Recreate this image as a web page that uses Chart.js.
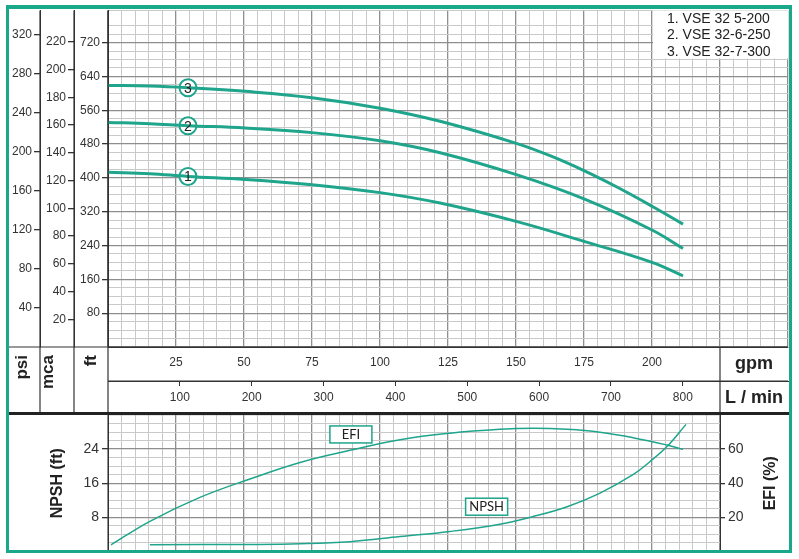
<!DOCTYPE html>
<html>
<head>
<meta charset="utf-8">
<title>VSE 32</title>
<script src="https://cdn.jsdelivr.net/npm/chart.js@4.4.1/dist/chart.umd.min.js"></script>
<style>
  html, body { margin: 0; padding: 0; background: #fff; }
  #wrap { position: relative; width: 799px; height: 559px; overflow: hidden; }
  #curvas { position: absolute; left: 0; top: 0; }
  #npsh { position: absolute; left: 0; top: 415px; }
  #marco {
    position: absolute; left: 6px; top: 5px; width: 786px; height: 548px;
    box-sizing: border-box; border: solid #1aa88b; border-width: 4px 3px 3px 3px;
    pointer-events: none;
  }
</style>
</head>
<body>
<div id="wrap">
  <canvas id="curvas" width="799" height="415"></canvas>
  <canvas id="npsh" width="799" height="144"></canvas>
  <div id="marco"></div>
</div>
<script>
// caudal en gpm, altura en ft
const GPM_LMIN = 3.78541;
const FT_MCA = 3.28084;
const FT_PSI = 2.30666;

const models = ['1. VSE 32 5-200', '2. VSE 32-6-250', '3. VSE 32-7-300'];

const flow1 = [0, 15.4, 29.4, 50.4, 75, 100, 122.1, 150.4, 175, 200, 211.4];
const head1 = [413.6, 410.1, 403.5, 396.5, 384.0, 365.2, 340.5, 296.5, 249.9, 200.2, 168.2];
const flow2 = [0, 15.4, 29.4, 50.4, 75, 100, 122.1, 150.4, 175, 200, 211.4];
const head2 = [531.3, 528.2, 523.5, 518.1, 507.1, 487.8, 459.5, 407.1, 350.4, 276.7, 232.9];
const flow3 = [0, 15.4, 29.4, 50.4, 75, 100, 122.1, 150.4, 162.5, 175, 187.1, 200, 211.4];
const head3 = [618.8, 617.4, 613.4, 604.7, 589.6, 564.9, 533.9, 481.2, 452.5, 417.2, 378.4, 333.0, 290.6];

const markerFlow = 29.4;
const markerHead = [403.5, 523.5, 613.4];
const markerNames = ['1', '2', '3'];

// rendimiento (%) y NPSH (ft)
const efiFlow = [1.1, 15.4, 33.8, 52.2, 70.6, 89, 107.4, 125.7, 144.1, 156.3, 168.8, 180.9, 193, 205.5, 211.4];
const efiValues = [3.9, 17.7, 31.7, 42.5, 52.2, 59.3, 65.5, 69.3, 71.6, 72.2, 71.6, 69.9, 66.7, 62.4, 59.9];
const npshFlow = [15.4, 52.2, 70.6, 89, 107.4, 125.7, 144.1, 156.3, 168.8, 180.9, 193, 199.3, 205.5, 212.5];
const npshValues = [1.6, 1.65, 1.8, 2.3, 3.5, 4.7, 6.4, 8.2, 10.5, 13.7, 18.0, 21.1, 24.6, 29.8];

const efiLabelAt = [89.3, 68.6];
const npshLabelAt = [139.2, 10.5];

const TEAL = '#1fa58c';
const DARK = '#333333';
const GRID_MAJOR = '#8e8e8e';
const GRID_MINOR = '#c9c9c9';
const NONE = 'rgba(0,0,0,0)';
const SANS = "'Liberation Sans', Arial, sans-serif";

Chart.defaults.font.family = SANS;
Chart.defaults.color = DARK;

function toPoints(xs, ys) {
  return xs.map((x, i) => ({ x, y: ys[i] }));
}

function fixBox(w, h) {
  return (s) => {
    if (w != null) s.width = w;
    if (h != null) s.height = h;
    s.paddingTop = 0;
    s.paddingBottom = 0;
    s.paddingLeft = 0;
    s.paddingRight = 0;
  };
}

function curve(xs, ys, width, axis) {
  return {
    data: toPoints(xs, ys),
    yAxisID: axis || 'y',
    borderColor: TEAL,
    borderWidth: width,
    pointRadius: 0,
    tension: 0.4,
    fill: false,
  };
}

function isMajor(v, step) {
  return Math.abs(v / step - Math.round(v / step)) < 1e-6;
}

function gridOpts(step, onArea) {
  return {
    drawOnChartArea: onArea,
    drawTicks: false,
    color: (c) => (c.tick && isMajor(c.tick.value, step) ? GRID_MAJOR : GRID_MINOR),
    lineWidth: (c) => (c.tick && isMajor(c.tick.value, step) ? 1.3 : 1),
  };
}

// eje lateral con marcas solo donde hay etiqueta
function sideAxis(opts) {
  const shown = (v) => v > 0 && v <= opts.last + 1e-6 && isMajor(v, opts.labelStep);
  return {
    type: 'linear',
    axis: 'y',
    position: opts.position,
    weight: opts.weight,
    min: 0,
    max: opts.max,
    afterFit: fixBox(opts.width, null),
    ticks: {
      stepSize: opts.step,
      autoSkip: false,
      padding: opts.padding,
      font: { size: opts.fontSize },
      color: DARK,
      callback: (v) => (shown(v) ? String(v) : ''),
    },
    grid: {
      drawOnChartArea: opts.onArea,
      drawTicks: true,
      tickLength: opts.tickLength,
      tickColor: (c) => (c.tick && shown(c.tick.value) ? DARK : NONE),
      color: (c) => (c.tick && isMajor(c.tick.value, opts.majorStep) ? GRID_MAJOR : GRID_MINOR),
      lineWidth: (c) => (c.tick && isMajor(c.tick.value, opts.majorStep) ? 1.3 : 1),
    },
    border: { color: DARK, width: 1 },
  };
}

function rotatedText(ctx, text, x, y, align, font) {
  ctx.save();
  ctx.translate(x, y);
  ctx.rotate(-Math.PI / 2);
  ctx.font = font;
  ctx.fillStyle = '#222';
  ctx.textAlign = align;
  ctx.textBaseline = 'alphabetic';
  ctx.fillText(text, 0, 0);
  ctx.restore();
}

function line(ctx, x1, y1, x2, y2, width, color) {
  ctx.save();
  ctx.beginPath();
  ctx.moveTo(x1, y1);
  ctx.lineTo(x2, y2);
  ctx.lineWidth = width;
  ctx.strokeStyle = color;
  ctx.stroke();
  ctx.restore();
}

function labelBox(ctx, text, cx, cy, w, h) {
  ctx.save();
  ctx.fillStyle = '#fff';
  ctx.fillRect(cx - w / 2, cy - h / 2, w, h);
  ctx.strokeStyle = TEAL;
  ctx.lineWidth = 1.5;
  ctx.strokeRect(cx - w / 2, cy - h / 2, w, h);
  ctx.font = "13px Lato, 'Open Sans', sans-serif";
  ctx.fillStyle = '#222';
  ctx.textAlign = 'center';
  ctx.textBaseline = 'middle';
  ctx.fillText(text, cx, cy + 0.5);
  ctx.restore();
}

const topFrame = {
  id: 'topFrame',
  afterDatasetsDraw(chart) {
    const ctx = chart.ctx;
    const meta = chart.getDatasetMeta(3);
    ctx.save();
    ctx.font = '14px ' + SANS;
    ctx.fillStyle = '#222';
    ctx.textAlign = 'center';
    ctx.textBaseline = 'middle';
    meta.data.forEach((p, i) => ctx.fillText(markerNames[i], p.x, p.y + 1));
    ctx.restore();
  },
  afterDraw(chart) {
    const ctx = chart.ctx;
    const area = chart.chartArea;
    const x = chart.scales.x;
    const xl = chart.scales.xl;
    const bandTop = area.bottom;
    const bandMid = xl.top;
    const bandBot = xl.bottom;
    const splitX = x.getPixelForValue(225);
    const legendX = x.getPixelForValue(200);

    // leyenda
    ctx.save();
    ctx.fillStyle = '#fff';
    ctx.fillRect(legendX + 1, area.top, area.right - legendX - 1, 48);
    ctx.font = '14px ' + SANS;
    ctx.fillStyle = '#222';
    ctx.textAlign = 'left';
    ctx.textBaseline = 'middle';
    models.forEach((m, i) => ctx.fillText(m, legendX + 15, area.top + 8.5 + i * 16.5));
    ctx.restore();

    // columnas y bandas
    [chart.scales.psi.right, chart.scales.mca.right, area.left].forEach((cx) =>
      line(ctx, cx, area.top, cx, bandBot, 1.2, DARK)
    );
    line(ctx, splitX, bandTop, splitX, bandBot, 1.2, DARK);
    line(ctx, 9, bandTop, area.right, bandTop, 1.2, DARK);
    line(ctx, area.left, bandMid, area.right, bandMid, 1.2, DARK);
    line(ctx, 9, bandBot - 1.5, area.right + 1, bandBot - 1.5, 3, '#222');

    const boldFont = 'bold 17px ' + SANS;
    rotatedText(ctx, 'psi', 27, 355, 'right', boldFont);
    rotatedText(ctx, 'mca', 53, 355, 'right', boldFont);
    rotatedText(ctx, 'ft', 96, 355, 'right', boldFont);

    ctx.save();
    ctx.font = 'bold 18px ' + SANS;
    ctx.fillStyle = '#222';
    ctx.textAlign = 'center';
    ctx.textBaseline = 'middle';
    const cx = (splitX + area.right) / 2;
    ctx.fillText('gpm', cx, (bandTop + bandMid) / 2);
    ctx.fillText('L / min', cx, (bandMid + bandBot) / 2);
    ctx.restore();
  },
};

const bottomFrame = {
  id: 'bottomFrame',
  afterDraw(chart) {
    const ctx = chart.ctx;
    const { x, y, y2 } = chart.scales;
    const area = chart.chartArea;
    labelBox(ctx, 'EFI', x.getPixelForValue(efiLabelAt[0]), y2.getPixelForValue(efiLabelAt[1]), 42, 17);
    labelBox(ctx, 'NPSH', x.getPixelForValue(npshLabelAt[0]), y.getPixelForValue(npshLabelAt[1]), 42, 17);
    const midY = (area.top + area.bottom) / 2;
    rotatedText(ctx, 'NPSH (ft)', 62, midY, 'center', 'bold 16px ' + SANS);
    rotatedText(ctx, 'EFI (%)', 775, midY, 'center', 'bold 16px ' + SANS);
  },
};

new Chart(document.getElementById('curvas'), {
  type: 'line',
  data: {
    datasets: [
      curve(flow1, head1, 3),
      curve(flow2, head2, 3),
      curve(flow3, head3, 3),
      {
        data: markerHead.map((h) => ({ x: markerFlow, y: h })),
        showLine: false,
        pointRadius: 8.5,
        pointHoverRadius: 8.5,
        pointBackgroundColor: '#fff',
        pointBorderColor: TEAL,
        pointBorderWidth: 2,
      },
    ],
  },
  options: {
    responsive: false,
    animation: false,
    events: [],
    layout: { padding: { left: 7, top: 9, right: 11, bottom: 0 } },
    plugins: { legend: { display: false }, tooltip: { enabled: false } },
    scales: {
      x: {
        type: 'linear',
        position: 'bottom',
        weight: 0,
        min: 0,
        max: 250,
        afterFit: fixBox(null, 34),
        ticks: {
          stepSize: 5,
          autoSkip: false,
          maxRotation: 0,
          padding: 8.5,
          font: { size: 12 },
          color: DARK,
          callback: (v) => (v > 0 && v <= 200 && isMajor(v, 25) ? String(v) : ''),
        },
        grid: gridOpts(25, true),
        border: { color: DARK, width: 1 },
      },
      xl: {
        type: 'linear',
        position: 'bottom',
        weight: 1,
        min: 0,
        max: 250 * GPM_LMIN,
        afterFit: fixBox(null, 34),
        ticks: {
          stepSize: 100,
          autoSkip: false,
          maxRotation: 0,
          padding: 4.5,
          font: { size: 12 },
          color: DARK,
          callback: (v) => (v > 0 && v <= 800 ? String(v) : ''),
        },
        grid: {
          drawOnChartArea: false,
          drawTicks: true,
          tickLength: 5,
          tickColor: (c) => (c.tick && c.tick.value > 0 && c.tick.value <= 800 ? DARK : NONE),
        },
        border: { color: DARK, width: 1 },
      },
      y: sideAxis({
        position: 'left', weight: 0, max: 796, step: 20, labelStep: 80, last: 720,
        majorStep: 80, width: 34, padding: 2, tickLength: 6, fontSize: 12, onArea: true,
      }),
      mca: sideAxis({
        position: 'left', weight: 1, max: 796 / FT_MCA, step: 20, labelStep: 20, last: 220,
        majorStep: 20, width: 34, padding: 2, tickLength: 6, fontSize: 12, onArea: false,
      }),
      psi: sideAxis({
        position: 'left', weight: 2, max: 796 / FT_PSI, step: 40, labelStep: 40, last: 320,
        majorStep: 40, width: 33, padding: 2, tickLength: 6, fontSize: 12, onArea: false,
      }),
    },
  },
  plugins: [topFrame],
});

new Chart(document.getElementById('npsh'), {
  type: 'line',
  data: {
    datasets: [
      curve(efiFlow, efiValues, 1.5, 'y2'),
      curve(npshFlow, npshValues, 1.5, 'y'),
    ],
  },
  options: {
    responsive: false,
    animation: false,
    events: [],
    layout: { padding: { left: 7, top: 0, right: 9, bottom: 7.5 } },
    plugins: { legend: { display: false }, tooltip: { enabled: false } },
    scales: {
      x: {
        type: 'linear',
        position: 'bottom',
        min: 0,
        max: 225,
        afterFit: fixBox(null, 0),
        ticks: { stepSize: 5, autoSkip: false, display: false },
        grid: gridOpts(25, true),
        border: { display: false },
      },
      y: sideAxis({
        position: 'left', weight: 0, max: 32, step: 2, labelStep: 8, last: 24,
        majorStep: 8, width: 101, padding: 3, tickLength: 6, fontSize: 14, onArea: true,
      }),
      y2: sideAxis({
        position: 'right', weight: 0, max: 80, step: 20, labelStep: 20, last: 60,
        majorStep: 20, width: 70, padding: 3, tickLength: 5, fontSize: 14, onArea: false,
      }),
    },
  },
  plugins: [bottomFrame],
});
</script>
</body>
</html>
